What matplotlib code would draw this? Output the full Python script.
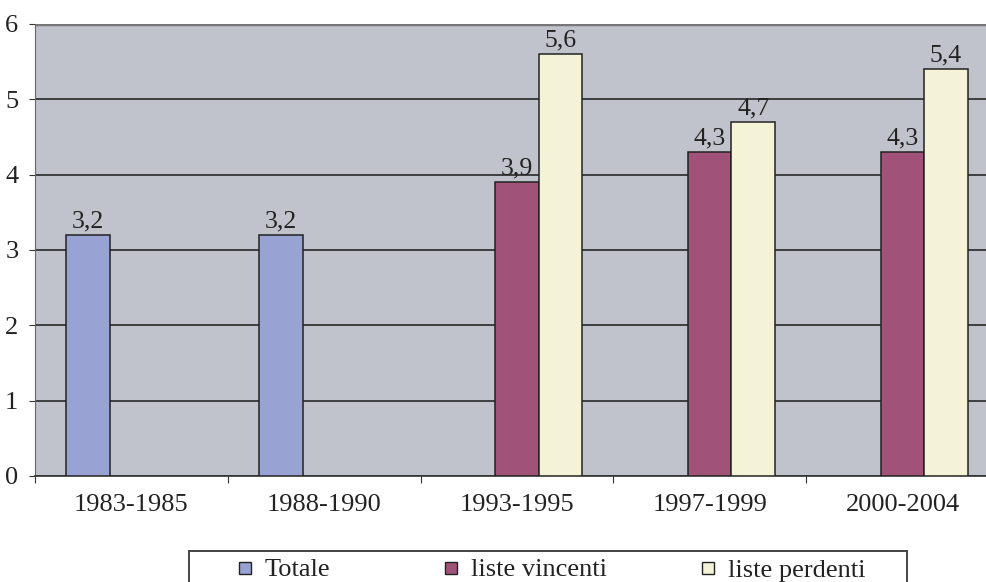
import numpy as np
import matplotlib.pyplot as plt
from matplotlib.patches import Rectangle

plt.rcParams['font.family'] = ['Liberation Serif', 'DejaVu Serif']

periodi = ['1983-1985', '1988-1990', '1993-1995', '1997-1999', '2000-2004']
totale = [3.2, 3.2, np.nan, np.nan, np.nan]
vincenti = [np.nan, np.nan, 3.9, 4.3, 4.3]
perdenti = [np.nan, np.nan, 5.6, 4.7, 5.4]

serie = [('Totale', totale, '#99A3D3'),
         ('liste vincenti', vincenti, '#A15279'),
         ('liste perdenti', perdenti, '#F4F3D7')]

W, H = 987, 582
fig = plt.figure(figsize=(W / 100, H / 100), dpi=100)
# the plot area runs a little past the right edge of the figure
ax = fig.add_axes([35 / W, 106 / H, 964 / W, 452 / H])
ax.set_facecolor('#C0C3CB')

x = np.arange(len(periodi))
w = 0.225
for k, (nome, vals, col) in enumerate(serie):
    vals = np.array(vals, dtype=float)
    ok = ~np.isnan(vals)
    pos = x[ok] + (k - 1) * w
    ax.bar(pos, vals[ok], w, color=col, edgecolor='#222222', linewidth=1.1,
           zorder=3, label=nome)
    for px, v in zip(pos, vals[ok]):
        ax.text(px, v + 0.03, f'{v:.1f}'.replace('.', ','), ha='center',
                va='bottom', fontsize=18.5, color='#222222', zorder=4)

ax.set_xlim(-0.5, len(periodi) - 0.5)
ax.set_ylim(0, 6)
ax.set_yticks(range(7))
ax.yaxis.grid(True, color='#1a1a1a', linewidth=1.1, zorder=1)
ax.set_axisbelow(True)
ax.axhline(6, color='#777777', linewidth=2.5, zorder=2)

ax.set_xticks(np.arange(len(periodi) + 1) - 0.5)
ax.set_xticklabels([])
ax.set_xticks(x, minor=True)
ax.set_xticklabels(periodi, minor=True)
ax.tick_params(axis='x', which='major', length=5, color='#333333', direction='out')
ax.tick_params(axis='x', which='minor', length=0, pad=13, labelsize=19, labelcolor='#222222')
ax.tick_params(axis='y', length=4, color='#333333', pad=8, labelsize=19, labelcolor='#222222')

for s in ['top', 'right']:
    ax.spines[s].set_visible(False)
ax.spines['left'].set_color('#666666')
ax.spines['bottom'].set_color('#333333')
ax.spines['bottom'].set_linewidth(1.2)

# legend box along the bottom, open at the lower edge
fig.patches.append(Rectangle((189 / W, -0.05), (907 - 189) / W, 0.05 + 1 - 551 / H,
                             transform=fig.transFigure, facecolor='white',
                             edgecolor='#444444', linewidth=1.4))
voci_x = [239, 445, 702]
y_leg = 1 - 568 / H
for (nome, vals, col), px in zip(serie, voci_x):
    fig.patches.append(Rectangle((px / W, y_leg - 6 / H), 12 / W, 12 / H,
                                 transform=fig.transFigure, facecolor=col,
                                 edgecolor='#222222', linewidth=1.0))
    fig.text((px + 26) / W, y_leg, nome, ha='left', va='center_baseline',
             fontsize=19, color='#222222')

fig.savefig('out.png', dpi=100)
